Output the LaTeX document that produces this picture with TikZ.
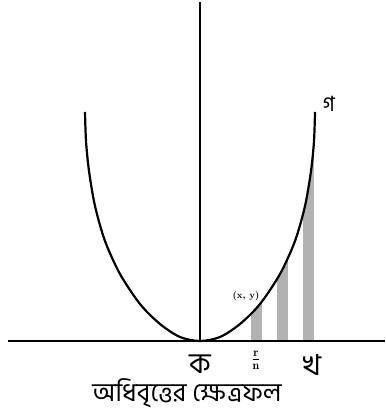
\documentclass[tikz,border=0pt]{standalone}
\usepackage{fontspec}
\newfontfamily\bnfont[Script=Bengali]{Hind Siliguri}
\begin{document}
\begin{tikzpicture}[x=1pt,y=-1pt,
  axis/.style={line width=1.8pt,black},
  curve/.style={line width=2.2pt,black},
  bar/.style={fill=black!30,draw=none},
  bnlabel/.style={font=\bnfont\fontsize{29}{32}\selectfont,inner sep=0pt}]
\useasboundingbox (0,0) rectangle (385,414);
% bars under the right branch
\begin{scope}
  \clip (200,341) -- plot[smooth] coordinates {(200,341) (220,337) (240,324) (260,304) (280,274) (295,241) (305,206) (311,171) (314,141) (315,112)} -- (316,341) -- cycle;
  \fill[bar] (251,341) rectangle (262,150);
  \fill[bar] (277,341) rectangle (288,150);
  \fill[bar] (303,341) rectangle (314,100);
\end{scope}
% axes
\coordinate (yt) at (200,2);
\coordinate (yb) at (200,341);
\coordinate (xl) at (8,341);
\coordinate (xr) at (385,341);
\draw[axis] (yt) -- (yb);
\draw[line width=2.4pt] (xl) -- (xr);
% parabola
\draw[curve] plot[smooth] coordinates {(85,112) (86,141) (89,171) (95,206) (105,241) (120,274) (140,304) (160,324) (180,337) (200,341) (220,337) (240,324) (260,304) (280,274) (295,241) (305,206) (311,171) (314,141) (315,112)};
% labels
\node[bnlabel] (k) at (200,364) {ক};
\node[bnlabel] (kh) at (312,365) {খ};
\node[font=\bnfont\fontsize{21}{24}\selectfont,inner sep=0pt] (g) at (329,104) {গ};
\node[inner sep=0pt,font=\fontsize{17}{19}\selectfont] (fr) at (256,360) {$\frac{\mathbf{r}}{\mathbf{n}}$};
\node[inner sep=0pt,font=\bfseries\fontsize{9.5}{11}\selectfont] (xy) at (246,296) {(x, y)};
\node[font=\bnfont\fontsize{26}{30}\selectfont,inner sep=0pt] (cap) at (187,393) {অধিবৃত্তের ক্ষেত্রফল};
\end{tikzpicture}
\end{document}
